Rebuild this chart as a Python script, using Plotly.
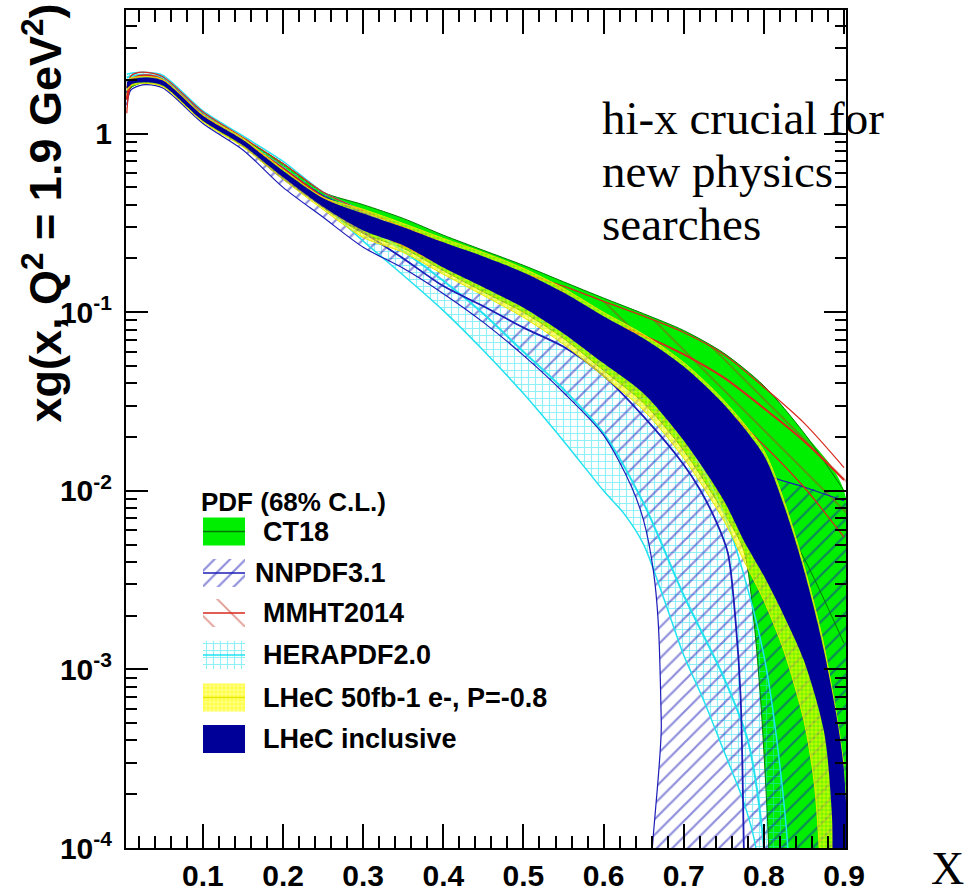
import plotly.graph_objects as go

# ---------------- values ----------------
X_GRID = [0.005, 0.01, 0.02, 0.03, 0.05, 0.1, 0.15, 0.2, 0.25, 0.3, 0.35, 0.4,
          0.45, 0.5, 0.55, 0.6, 0.65, 0.7, 0.75, 0.8, 0.85, 0.9]

# CT18
ct18_x_up = X_GRID
ct18_up = [1.82, 2.00, 2.08, 2.10, 2.02, 1.30, 0.94, 0.68, 0.47, 0.40, 0.335, 0.27,
           0.222, 0.183, 0.148, 0.120, 0.098, 0.079, 0.059, 0.0387, 0.0211, 0.0100]
ct18_x_lo = [0.005, 0.01, 0.02, 0.03, 0.05, 0.1, 0.15, 0.2, 0.25, 0.3, 0.35, 0.4, 0.45,
             0.5, 0.55, 0.6, 0.65, 0.7, 0.75, 0.775, 0.7875, 0.796, 0.802, 0.806, 0.81, 0.9]
ct18_lo = [1.55, 1.80, 1.90, 1.92, 1.85, 1.18, 0.85, 0.58, 0.385, 0.276, 0.228, 0.171, 0.130,
           0.0998, 0.0713, 0.0472, 0.0310, 0.0168, 0.00755, 0.00462, 0.00187, 0.00067,
           0.00024, 0.0001, 1e-5, 1e-5]
ct18_x_c = X_GRID
ct18_c = [1.68, 1.90, 1.98, 2.00, 1.93, 1.24, 0.89, 0.63, 0.43, 0.34, 0.275, 0.215,
          0.172, 0.136, 0.105, 0.073, 0.052, 0.036, 0.021, 0.010, 0.0042, 0.0014]

# NNPDF3.1
nn_x_up = X_GRID
nn_up = [1.95, 2.02, 2.08, 2.08, 2.00, 1.28, 0.92, 0.64, 0.45, 0.36, 0.29, 0.23,
         0.19, 0.15, 0.115, 0.085, 0.060, 0.037, 0.020, 0.0125, 0.0105, 0.0088]
nn_x_lo = [0.005, 0.01, 0.02, 0.03, 0.05, 0.1, 0.15, 0.2, 0.25, 0.3, 0.35, 0.4, 0.45,
           0.5, 0.55, 0.6, 0.635, 0.65, 0.662, 0.668, 0.672, 0.675, 0.9]
nn_lo = [1.45, 1.75, 1.85, 1.88, 1.80, 1.14, 0.81, 0.50, 0.34, 0.231, 0.176, 0.127, 0.0877,
         0.0573, 0.0355, 0.0205, 0.0105, 0.0068, 0.0036, 0.0019, 0.0005, 1e-5, 1e-5]
nn_x_c = [0.005, 0.01, 0.02, 0.03, 0.05, 0.1, 0.15, 0.2, 0.25, 0.3, 0.35, 0.4, 0.45,
          0.5, 0.55, 0.6, 0.65, 0.7, 0.72, 0.74, 0.755, 0.765, 0.771, 0.775, 0.778]
nn_c = [1.70, 1.90, 2.00, 2.00, 1.92, 1.22, 0.86, 0.56, 0.39, 0.28, 0.20, 0.14, 0.108,
        0.082, 0.064, 0.044, 0.026, 0.014, 0.0102, 0.0068, 0.0045, 0.0018, 0.0007, 0.0001, 1e-5]

# MMHT2014
mm_x = X_GRID
mm_up = [1.80, 2.10, 2.20, 2.20, 2.08, 1.32, 0.95, 0.68, 0.47, 0.37, 0.30, 0.245,
         0.198, 0.165, 0.14, 0.115, 0.095, 0.077, 0.058, 0.038, 0.024, 0.0135]
mm_c = [1.55, 1.98, 2.10, 2.12, 2.00, 1.26, 0.91, 0.64, 0.44, 0.335, 0.265, 0.21,
        0.168, 0.135, 0.11, 0.09, 0.074, 0.058, 0.043, 0.029, 0.019, 0.0115]
mm_lo = [1.30, 1.85, 2.00, 2.02, 1.92, 1.20, 0.87, 0.60, 0.41, 0.30, 0.235, 0.18,
         0.14, 0.11, 0.085, 0.065, 0.052, 0.040, 0.029, 0.018, 0.0105, 0.0055]

# HERAPDF2.0
hp_x_up = [0.005, 0.01, 0.02, 0.03, 0.05, 0.1, 0.15, 0.2, 0.25, 0.3, 0.35, 0.4, 0.45,
           0.5, 0.55, 0.6, 0.65, 0.7, 0.75, 0.8, 0.83, 0.835, 0.9]
hp_up = [2.15, 2.18, 2.20, 2.20, 2.12, 1.34, 0.97, 0.70, 0.47, 0.37, 0.29, 0.22, 0.165,
         0.12, 0.085, 0.058, 0.037, 0.020, 0.0075, 0.0012, 0.0001, 1e-5, 1e-5]
hp_x_lo = [0.005, 0.01, 0.02, 0.03, 0.05, 0.1, 0.15, 0.2, 0.25, 0.3, 0.35, 0.4, 0.45,
           0.5, 0.55, 0.6, 0.625, 0.65, 0.675, 0.7, 0.725, 0.75, 0.775, 0.79, 0.80, 0.9]
hp_lo = [1.95, 2.02, 2.06, 2.06, 1.98, 1.24, 0.87, 0.59, 0.40, 0.25, 0.161, 0.102, 0.061,
         0.035, 0.019, 0.010, 0.0075, 0.0050, 0.0025, 0.0012, 0.00067, 0.00035, 0.00018,
         0.0001, 1e-5, 1e-5]
hp_x_c = [0.005, 0.01, 0.02, 0.03, 0.05, 0.1, 0.15, 0.2, 0.25, 0.3, 0.35, 0.4, 0.45,
          0.5, 0.55, 0.6, 0.65, 0.7, 0.75, 0.78, 0.80, 0.805]
hp_c = [2.05, 2.10, 2.13, 2.13, 2.05, 1.29, 0.92, 0.645, 0.435, 0.31, 0.22, 0.15, 0.098,
        0.060, 0.037, 0.021, 0.0085, 0.0026, 0.0009, 0.0004, 0.0001, 1e-5]

# LHeC 50fb-1 e-, P=-0.8
y50_x_up = [0.005, 0.01, 0.02, 0.03, 0.05, 0.1, 0.15, 0.2, 0.25, 0.3, 0.35, 0.4, 0.45,
            0.5, 0.55, 0.6, 0.65, 0.7, 0.75, 0.8, 0.825, 0.85, 0.875, 0.9]
y50_up = [1.97, 2.05, 2.08, 2.09, 2.01, 1.28, 0.94, 0.63, 0.44, 0.377, 0.314, 0.259, 0.216,
          0.176, 0.136, 0.0998, 0.0751, 0.0523, 0.0321, 0.0168, 0.00883, 0.00382, 0.00136,
          0.000289]
y50_x_lo = [0.005, 0.01, 0.02, 0.03, 0.05, 0.1, 0.15, 0.2, 0.25, 0.3, 0.35, 0.4, 0.45,
            0.5, 0.55, 0.6, 0.65, 0.7, 0.75, 0.775, 0.8, 0.825, 0.85, 0.8625, 0.869, 0.875, 0.9]
y50_lo = [1.74, 1.85, 1.90, 1.91, 1.83, 1.16, 0.84, 0.555, 0.375, 0.262, 0.216, 0.163, 0.124,
          0.0935, 0.0661, 0.0437, 0.0282, 0.0152, 0.00682, 0.00406, 0.00243, 0.00127,
          0.000516, 0.000238, 0.0001, 1e-5, 1e-5]

# LHeC inclusive
li_x_up = [0.005, 0.01, 0.02, 0.03, 0.05, 0.1, 0.15, 0.2, 0.25, 0.3, 0.35, 0.4, 0.45,
           0.5, 0.55, 0.6, 0.65, 0.7, 0.75, 0.8, 0.825, 0.85, 0.875, 0.9]
li_up = [1.94, 2.02, 2.05, 2.06, 1.98, 1.26, 0.92, 0.62, 0.435, 0.357, 0.299, 0.246, 0.205,
         0.167, 0.129, 0.095, 0.0713, 0.0497, 0.0305, 0.0158, 0.0083, 0.0036, 0.00127, 0.00027]
li_x_lo = [0.005, 0.01, 0.02, 0.03, 0.05, 0.1, 0.15, 0.2, 0.25, 0.3, 0.35, 0.4, 0.45,
           0.5, 0.55, 0.6, 0.65, 0.7, 0.75, 0.775, 0.8, 0.825, 0.85, 0.875, 0.885, 0.89, 0.9]
li_lo = [1.78, 1.88, 1.93, 1.94, 1.86, 1.18, 0.86, 0.57, 0.39, 0.287, 0.237, 0.178, 0.138,
         0.106, 0.0761, 0.0517, 0.0350, 0.0191, 0.00883, 0.00526, 0.00334, 0.0020, 0.00112,
         0.00045, 0.00015, 1e-5, 1e-5]

LEGEND_NAMES = ["CT18", "NNPDF3.1", "MMHT2014", "HERAPDF2.0",
                "LHeC 50fb-1 e-, P=-0.8", "LHeC inclusive"]
LEGEND_TITLE = "PDF (68% C.L.)"
X_TICKS = [0.1, 0.2, 0.3, 0.4, 0.5, 0.6, 0.7, 0.8, 0.9]
X_TICK_TEXT = ["0.1", "0.2", "0.3", "0.4", "0.5", "0.6", "0.7", "0.8", "0.9"]
Y_TICKS = [1e-4, 1e-3, 1e-2, 1e-1, 1]
Y_TICK_TEXT = ["10<sup>-4</sup>", "10<sup>-3</sup>", "10<sup>-2</sup>", "10<sup>-1</sup>", "1"]

# ---------------- styles / layout ----------------
W, H = 978, 894
L, R, T, B = 126, 132, 10, 46
PW, PH = W - L - R, H - T - B

GREEN, GREEN_LINE = "#00ee00", "#007a00"
BLUE = "#1c1cb8"
RED = "#d8281c"
CYAN = "#22e2f0"
NAVY = "#000099"
SANS = "Liberation Sans"
SERIF = "Liberation Serif"
SM = 0.8


def paper_x(p):
    return (p - L) / PW


def paper_y(p):
    return 1 - (p - T) / PH


fig = go.Figure()


def band(xu, yu, xl, yl, **kw):
    fig.add_trace(go.Scatter(
        x=list(xu) + list(xl)[::-1], y=list(yu) + list(yl)[::-1],
        fill="toself", mode="lines",
        line=dict(width=0, shape="spline", smoothing=SM),
        showlegend=False, hoverinfo="skip", **kw))


def curve(x, y, color, width=1.2, dash="solid"):
    fig.add_trace(go.Scatter(
        x=x, y=y, mode="lines",
        line=dict(color=color, width=width, shape="spline", smoothing=SM, dash=dash),
        showlegend=False, hoverinfo="skip"))


P_CT = dict(fillcolor=GREEN)
P_HP = dict(fillcolor="rgba(0,0,0,0)",
            fillpattern=dict(shape="+", fgcolor=CYAN, size=7, solidity=0.3))
P_NN = dict(fillcolor="rgba(0,0,0,0)",
            fillpattern=dict(shape="/", fgcolor=BLUE, size=11, solidity=0.2))
P_MM = dict(fillcolor="rgba(0,0,0,0)",
            fillpattern=dict(shape="\\", fgcolor="#c0301c", size=22, solidity=0.08))
P_Y50 = dict(fillcolor="rgba(0,0,0,0)",
             fillpattern=dict(shape=".", fgcolor="#ffff00", bgcolor="rgba(255,255,0,0.45)",
                              size=4, solidity=0.6))
P_LI = dict(fillcolor=NAVY)

# bands (drawn bottom -> top)
band(ct18_x_up, ct18_up, ct18_x_lo, ct18_lo, **P_CT)
band(hp_x_up, hp_up, hp_x_lo, hp_lo, **P_HP)
band(nn_x_up, nn_up, nn_x_lo, nn_lo, **P_NN)
band(mm_x, mm_up, mm_x, mm_lo, **P_MM)

curve(ct18_x_up, ct18_up, GREEN_LINE, 1)
curve(ct18_x_lo, ct18_lo, GREEN_LINE, 1)
curve(ct18_x_c, ct18_c, GREEN_LINE, 1)
curve(hp_x_up, hp_up, CYAN, 1.5)
curve(hp_x_lo, hp_lo, CYAN, 1.5)
curve(hp_x_c, hp_c, CYAN, 2)
curve(nn_x_up, nn_up, BLUE, 1.2)
curve(nn_x_lo, nn_lo, BLUE, 1.2)
curve(nn_x_c, nn_c, BLUE, 1.8)
curve(mm_x, mm_up, RED, 1.2)
curve(mm_x, mm_lo, RED, 1.2)
curve(mm_x, mm_c, RED, 2)

band(y50_x_up, y50_up, y50_x_lo, y50_lo, **P_Y50)
curve(y50_x_up, y50_up, "#e6e600", 1)
curve(y50_x_lo, y50_lo, "#e6e600", 1)
band(li_x_up, li_up, li_x_lo, li_lo, **P_LI)

# ---------------- legend (drawn on an overlay pixel axis) ----------------
row_centres = [531.5, 573, 613, 655, 697.5, 739]   # pixel rows, absolute
sw_x0, sw_x1, sw_h = 203, 245, 28
styles = [P_CT, P_NN, P_MM, P_HP, P_Y50, P_LI]
line_cols = [GREEN_LINE, BLUE, RED, CYAN, "#e6e600", None]
for cy, st, lc in zip(row_centres, styles, line_cols):
    ry = cy - T
    x0, x1 = sw_x0 - L, sw_x1 - L
    fig.add_trace(go.Scatter(
        x=[x0, x1, x1, x0, x0],
        y=[ry - sw_h / 2, ry - sw_h / 2, ry + sw_h / 2, ry + sw_h / 2, ry - sw_h / 2],
        xaxis="x2", yaxis="y2", fill="toself", mode="lines", line=dict(width=0),
        showlegend=False, hoverinfo="skip", **st))
    if lc:
        fig.add_trace(go.Scatter(x=[x0, x1], y=[ry, ry], xaxis="x2", yaxis="y2", mode="lines",
                                 line=dict(color=lc, width=1.5), showlegend=False,
                                 hoverinfo="skip"))

annotations = []
annotations.append(dict(text=LEGEND_TITLE, x=paper_x(199), y=paper_y(502), xref="paper",
                        yref="paper", xanchor="left", yanchor="middle", showarrow=False,
                        font=dict(family=SANS, size=26, color="black", weight="bold")))
for cy, name in zip(row_centres, LEGEND_NAMES):
    tx = 253 if name == "NNPDF3.1" else 261
    annotations.append(dict(text=name, x=paper_x(tx), y=paper_y(cy), xref="paper", yref="paper",
                            xanchor="left", yanchor="middle", showarrow=False,
                            font=dict(family=SANS, size=27, color="black", weight="bold")))

# y-axis title
annotations.append(dict(text="xg(x, Q<sup>2</sup> = 1.9 GeV<sup>2</sup>)", textangle=-90,
                        x=paper_x(42), y=paper_y(2), xref="paper", yref="paper",
                        xanchor="center", yanchor="top", showarrow=False,
                        font=dict(family=SANS, size=45, color="black", weight="bold")))
# in-plot comment
for txt, base in [("hi-x crucial for", 134), ("new physics", 187), ("searches", 240)]:
    annotations.append(dict(text=txt, x=paper_x(600), y=paper_y(base - 16), xref="paper",
                            yref="paper", xanchor="left", yanchor="middle", showarrow=False,
                            font=dict(family=SERIF, size=47, color="black")))
# x-axis title
annotations.append(dict(text="X", x=paper_x(947), y=paper_y(868), xref="paper", yref="paper",
                        xanchor="center", yanchor="middle", showarrow=False,
                        font=dict(family=SERIF, size=46, color="black")))

minor_y = [m * 10 ** e for e in range(-4, 0) for m in range(2, 10)] + [2, 3, 4]

fig.update_layout(
    width=W, height=H, margin=dict(l=L, r=R, t=T, b=B, pad=0, autoexpand=False),
    paper_bgcolor="white", plot_bgcolor="white", showlegend=False,
    annotations=annotations,
    xaxis=dict(range=[0.004, 0.9025], tickmode="array", tickvals=X_TICKS, ticktext=X_TICK_TEXT,
               ticks="inside", ticklen=24, tickwidth=2, tickcolor="black",
               showline=True, linewidth=2, linecolor="black", mirror="ticks",
               showgrid=False, zeroline=False, ticklabelstandoff=0, automargin=False,
               tickfont=dict(family=SANS, size=30, color="black", weight="bold"),
               minor=dict(ticks="inside", ticklen=12, tickwidth=1.5, tickcolor="black",
                          dtick=0.02, tick0=0, showgrid=False)),
    yaxis=dict(type="log", range=[-4, 0.692], tickmode="array", tickvals=Y_TICKS,
               ticktext=Y_TICK_TEXT,
               ticks="inside", ticklen=22, tickwidth=2, tickcolor="black",
               showline=True, linewidth=2, linecolor="black", mirror="ticks",
               showgrid=False, zeroline=False, ticklabelstandoff=6, automargin=False,
               tickfont=dict(family=SANS, size=30, color="black", weight="bold"),
               minor=dict(ticks="inside", ticklen=11, tickwidth=1.5, tickcolor="black",
                          tickvals=minor_y, showgrid=False)),
    xaxis2=dict(overlaying="x", range=[0, PW], visible=False, fixedrange=True),
    yaxis2=dict(overlaying="y", range=[PH, 0], visible=False, fixedrange=True),
)

fig.write_html("out.html")
